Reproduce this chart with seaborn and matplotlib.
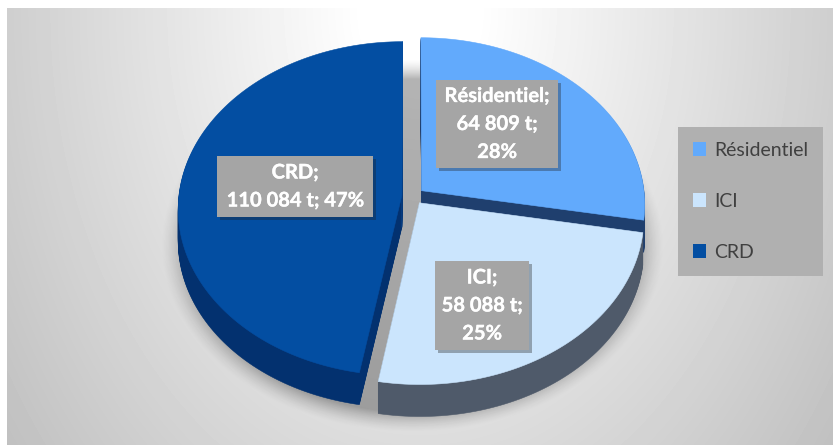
import numpy as np
import matplotlib
matplotlib.use("Agg")
import matplotlib.pyplot as plt
import matplotlib.patheffects as pe
from matplotlib.patches import Patch, Polygon, Rectangle
from matplotlib.transforms import Affine2D
import seaborn as sns

categories = ["Résidentiel", "ICI", "CRD"]
tonnes = [64809, 58088, 110084]
label_texts = ["Résidentiel;\n64 809 t;\n28%", "ICI;\n58 088 t;\n25%", "CRD;\n110 084 t; 47%"]

top_colors = sns.color_palette(["#62aafc", "#cbe5fd", "#034ea2"])
wall_colors = sns.color_palette(["#1f3f6e", "#4f5a6a", "#03316f"])
cut_color = "#063f86"
box_color = "#a5a5a5"

# label boxes, x0, y0, x1, y1 in pixels
label_boxes = [(436, 80, 558, 168), (435, 261, 529, 350), (217, 156, 373, 217)]

W, H = 833, 445
cx, cy = 413, 196  # pie centre before explode
rx, ry = 223, 166
k = 0.08  # perspective
depth = 32
fine = 2000  # scale used when flattening the arcs


def project(xy):
    # unit pie coords to pixels, front of the pie comes out bigger
    d = 1 + k * xy[:, 1]
    return np.column_stack([cx + rx * xy[:, 0] / d, cy - ry * xy[:, 1] / d])


sns.set_theme(style="white")
plt.rcParams["font.family"] = ["Lato", "DejaVu Sans"]

fig = plt.figure(figsize=(W / 100, H / 100), dpi=100)
ax = fig.add_axes([0, 0, 1, 1])

wedges, _ = ax.pie(tonnes, explode=[0.05, 0.05, 0.05], startangle=90, counterclock=False)
shapes = [project(w.get_path().to_polygons(Affine2D().scale(fine), closed_only=False)[0] / fine) for w in wedges]
corners = [project(np.array([w.center, w.center + np.array([np.cos(np.radians(w.theta1)),
                                                            np.sin(np.radians(w.theta1))])])) for w in wedges]
for w in wedges:
    w.remove()

ax.set_aspect("auto")
ax.axis("off")

# grey backdrop, lightest near the top of the pie
yy, xx = np.mgrid[0:H, 0:W]
dist = np.hypot((xx - 420) / 430, (yy - 10) / 600)
backdrop = np.clip(1.03 - 0.23 * dist, 0, 1)
backdrop[:8] = 1
backdrop[:, :7] = 1
ax.imshow(backdrop, cmap="gray", vmin=0, vmax=1, extent=(0, W, H, 0), aspect="auto", zorder=0)

# soft shadow behind the pie
r = np.hypot((xx - 412) / 252, (yy - 245) / 187)
alpha = np.clip((1.0 - r) / 0.11, 0, 1) ** 1.5 * 0.3
shadow = np.zeros((H, W, 4))
shadow[..., 3] = alpha
ax.imshow(shadow, extent=(0, W, H, 0), aspect="auto", zorder=1)
ax.set_xlim(0, W)
ax.set_ylim(H, 0)

# back to front: CRD, Résidentiel, ICI
for i, idx in enumerate([2, 0, 1]):
    z = 2 + i
    for off in range(depth, 0, -1):
        ax.add_patch(Polygon(shapes[idx] + [0, off], closed=True, fc=wall_colors[idx],
                             ec=wall_colors[idx], lw=0.4, zorder=z))
    if idx == 2:
        # cut face on the front edge of the CRD slice
        a, b = corners[idx]
        ax.add_patch(Polygon([a, b, b + [0, depth], a + [0, depth]], closed=True, fc=cut_color,
                             ec=cut_color, lw=0.4, zorder=z))
    ax.add_patch(Polygon(shapes[idx], closed=True, fc=top_colors[idx], ec=top_colors[idx],
                         lw=0.4, zorder=z + 0.5))

for (x0, y0, x1, y1), txt in zip(label_boxes, label_texts):
    ax.add_patch(Rectangle((x0, y0), x1 - x0, y1 - y0, fc=box_color, ec="none", zorder=8,
                           path_effects=[pe.SimplePatchShadow(offset=(2, -2), shadow_rgbFace="#222222", alpha=0.35),
                                         pe.Normal()]))
    ax.text((x0 + x1) / 2, (y0 + y1) / 2, txt, ha="center", va="center", multialignment="center",
            color="white", fontsize=14.5, fontweight="bold", linespacing=1.5, zorder=9,
            path_effects=[pe.withStroke(linewidth=0.25, foreground="white")])

handles = [Patch(fc=c, ec="none") for c in top_colors]
leg = ax.legend(handles, categories, loc="center", bbox_to_anchor=(750.5 / W, 1 - 201.5 / H), frameon=True,
                facecolor="#b0b0b0", edgecolor="none", framealpha=1, fancybox=False, fontsize=14,
                labelcolor="#404040", labelspacing=1.75, handlelength=0.7, handleheight=0.7,
                handletextpad=0.4, borderpad=0.75)
leg.set_zorder(10)

fig.savefig("out.png", dpi=100)
